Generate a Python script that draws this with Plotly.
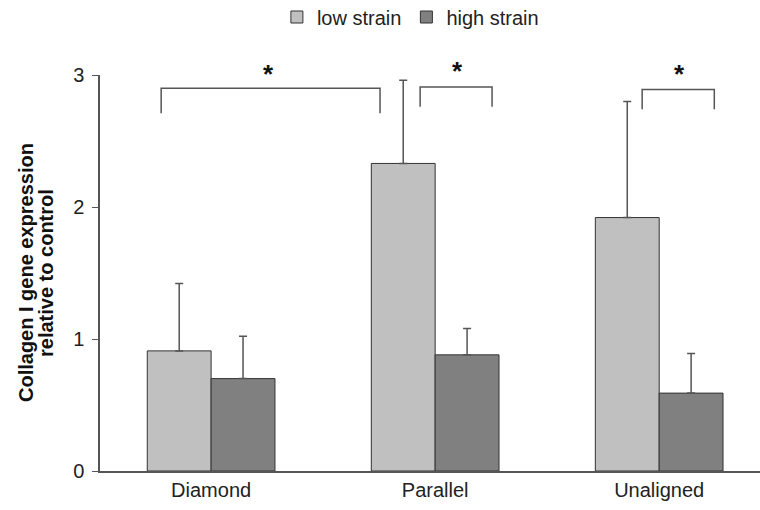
import plotly.graph_objects as go

categories = ["Diamond", "Parallel", "Unaligned"]
low_strain = [0.91, 2.33, 1.92]
low_strain_err = [0.51, 0.63, 0.88]
high_strain = [0.70, 0.88, 0.59]
high_strain_err = [0.32, 0.20, 0.30]
y_ticks = [0, 1, 2, 3]

# significance brackets: (x_left, x_right, y_top, y_bottom, star_x, star_pixel_shift)
brackets = [
    (-0.223, 0.754, 2.90, 2.71, 0.254, 1),
    (0.933, 1.254, 2.91, 2.76, 1.098, 4),
    (1.924, 2.246, 2.89, 2.74, 2.089, 1),
]

FONT = "Liberation Sans, Arial, sans-serif"
xpos = list(range(len(categories)))
fig = go.Figure()
fig.add_trace(go.Bar(
    name="low strain", x=xpos, y=low_strain,
    marker=dict(color="#c0c0c0", line=dict(color="#333333", width=1)),
    error_y=dict(type="data", symmetric=False, array=low_strain_err,
                 arrayminus=[0, 0, 0], color="#555555", thickness=1.5, width=4),
))
fig.add_trace(go.Bar(
    name="high strain", x=xpos, y=high_strain,
    marker=dict(color="#808080", line=dict(color="#333333", width=1)),
    error_y=dict(type="data", symmetric=False, array=high_strain_err,
                 arrayminus=[0, 0, 0], color="#555555", thickness=1.5, width=4),
))

for xl, xr, yt, yb, sx, shift in brackets:
    fig.add_shape(type="path",
                  path=f"M {xl} {yb} L {xl} {yt} L {xr} {yt} L {xr} {yb}",
                  xref="x", yref="y", line=dict(color="#555555", width=1.5))
    fig.add_annotation(x=sx, y=3.0, yshift=shift, text="<b>*</b>", showarrow=False,
                       xref="x", yref="y", yanchor="middle",
                       font=dict(size=26, color="#111111", family=FONT))

# y-axis title as two annotation lines (tighter line spacing)
for px, line in [(26, "Collagen I gene expression"), (46, "relative to control")]:
    fig.add_annotation(x=(px - 100) / 660.0, y=0.5, xref="paper", yref="paper",
                       text=f"<b>{line}</b>", textangle=-90, showarrow=False,
                       xanchor="center", yanchor="middle",
                       font=dict(size=20, color="#111111", family=FONT))

fig.update_layout(
    width=760, height=510,
    margin=dict(l=100, r=0, t=75, b=39),
    barmode="group", bargap=0.43, bargroupgap=0,
    plot_bgcolor="white", paper_bgcolor="white",
    font=dict(family=FONT, size=20, color="#222222"),
    showlegend=True,
    legend=dict(orientation="h", x=0.54, xref="container", xanchor="center",
                y=1 - 17 / 510, yref="container", yanchor="middle",
                font=dict(size=20), itemwidth=30),
    xaxis=dict(range=[-0.496, 2.45], tickvals=xpos, ticktext=categories,
               showline=True, linecolor="#555555", linewidth=1.5,
               ticks="", tickfont=dict(size=20), automargin=False, showgrid=False,
               zeroline=False),
    yaxis=dict(range=[0, 3], tickvals=y_ticks, showline=True, linecolor="#555555",
               linewidth=1.5, ticks="outside", ticklen=6, tickcolor="#555555",
               showgrid=False, zeroline=False, tickfont=dict(size=20),
               ticklabelstandoff=4, automargin=False),
)

fig.write_html("out.html", post_script="document.body.style.margin='0';",
               config={"displayModeBar": False})
